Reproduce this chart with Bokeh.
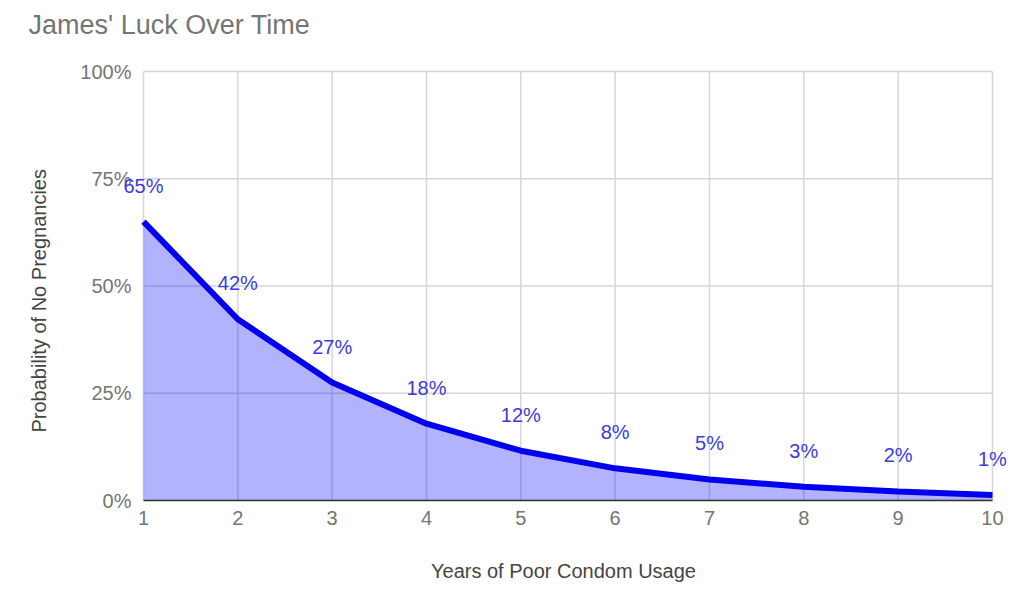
from bokeh.plotting import figure, ColumnDataSource
from bokeh.models import FixedTicker, NumeralTickFormatter, Range1d, LabelSet, Title
from bokeh.core.properties import value
from bokeh.embed import file_html
from bokeh.resources import INLINE

# data
years = [1, 2, 3, 4, 5, 6, 7, 8, 9, 10]
prob = [0.65, 0.4225, 0.275, 0.179, 0.116, 0.075, 0.049, 0.032, 0.021, 0.013]
labels = ["65%", "42%", "27%", "18%", "12%", "8%", "5%", "3%", "2%", "1%"]
y_ticks = [0, 0.25, 0.5, 0.75, 1.0]

FONT = "Liberation Sans"
GREY = "#757575"

src = ColumnDataSource(data=dict(x=years, y=prob, lab=labels))

# the frame is a bit larger than 1..10 / 0..1 so end labels and the title fit
p = figure(
    width=1008, height=593,
    output_backend="svg", toolbar_location=None,
    x_range=Range1d(0.735, 10.17), y_range=Range1d(0, 1.049),
    min_border_left=118, min_border_right=0,
    min_border_top=50, min_border_bottom=93,
    title="James' Luck Over Time",
)
p.outline_line_color = None
p.xgrid.visible = False
p.ygrid.visible = False

p.title.text_font = FONT
p.title.text_font_size = "27px"
p.title.text_font_style = "normal"
p.title.text_color = GREY
p.title.offset = -90
p.title.standoff = 18
p.title.vertical_align = "top"

# grid lines only inside 1..10 x 0..100%
for t in y_ticks:
    r = p.segment(x0=years[0], x1=years[-1], y0=t, y1=t,
                  line_color="#d6d6d6", line_width=1.5)
    r.level = "underlay"
for yr in years:
    r = p.segment(x0=yr, x1=yr, y0=y_ticks[0], y1=y_ticks[-1],
                  line_color="#d6d6d6", line_width=1.5)
    r.level = "underlay"

# axes
p.xaxis.ticker = FixedTicker(ticks=years)
p.yaxis.ticker = FixedTicker(ticks=y_ticks)
p.yaxis.formatter = NumeralTickFormatter(format="0%")
for ax in (p.xaxis[0], p.yaxis[0]):
    ax.major_tick_line_color = None
    ax.minor_tick_line_color = None
    ax.major_tick_out = 0
    ax.major_tick_in = 0
    ax.minor_tick_out = 0
    ax.major_label_text_font = FONT
    ax.major_label_text_font_size = "20px"
    ax.major_label_text_color = GREY
    ax.axis_label_text_font = FONT
    ax.axis_label_text_font_size = "20px"
    ax.axis_label_text_font_style = "normal"
    ax.axis_label_text_color = "#444444"
p.yaxis.axis_line_color = None
p.xaxis.bounds = (years[0], years[-1])
p.xaxis.axis_line_color = "#333333"
p.xaxis.axis_line_width = 1.5
p.xaxis.major_label_standoff = 10
# y labels sit left of x=1, which is 25px inside the frame
p.yaxis.major_label_standoff = -13
p.xaxis.axis_label = "Years of Poor Condom Usage"
p.xaxis.axis_label_standoff = 32

# y axis title as a side Title so it can sit lower than the frame centre
p.add_layout(Title(text="Probability of No Pregnancies", align="left", offset=68,
                   vertical_align="middle", standoff=53,
                   text_font=FONT, text_font_size="20px",
                   text_font_style="normal", text_color="#444444"), "left")

# area + line
p.varea(x="x", y1=0, y2="y", source=src, fill_color="#0000ff", fill_alpha=0.3)
p.line(x="x", y="y", source=src, line_color="#0000ee", line_width=6)

# point labels
p.add_layout(LabelSet(x="x", y="y", text="lab", source=src, y_offset=36,
                      text_align="center", text_baseline="middle",
                      text_font=value(FONT), text_font_size=value("20px"),
                      text_color="#3b3be0"))

open("out.html", "w").write(file_html(p, INLINE))
